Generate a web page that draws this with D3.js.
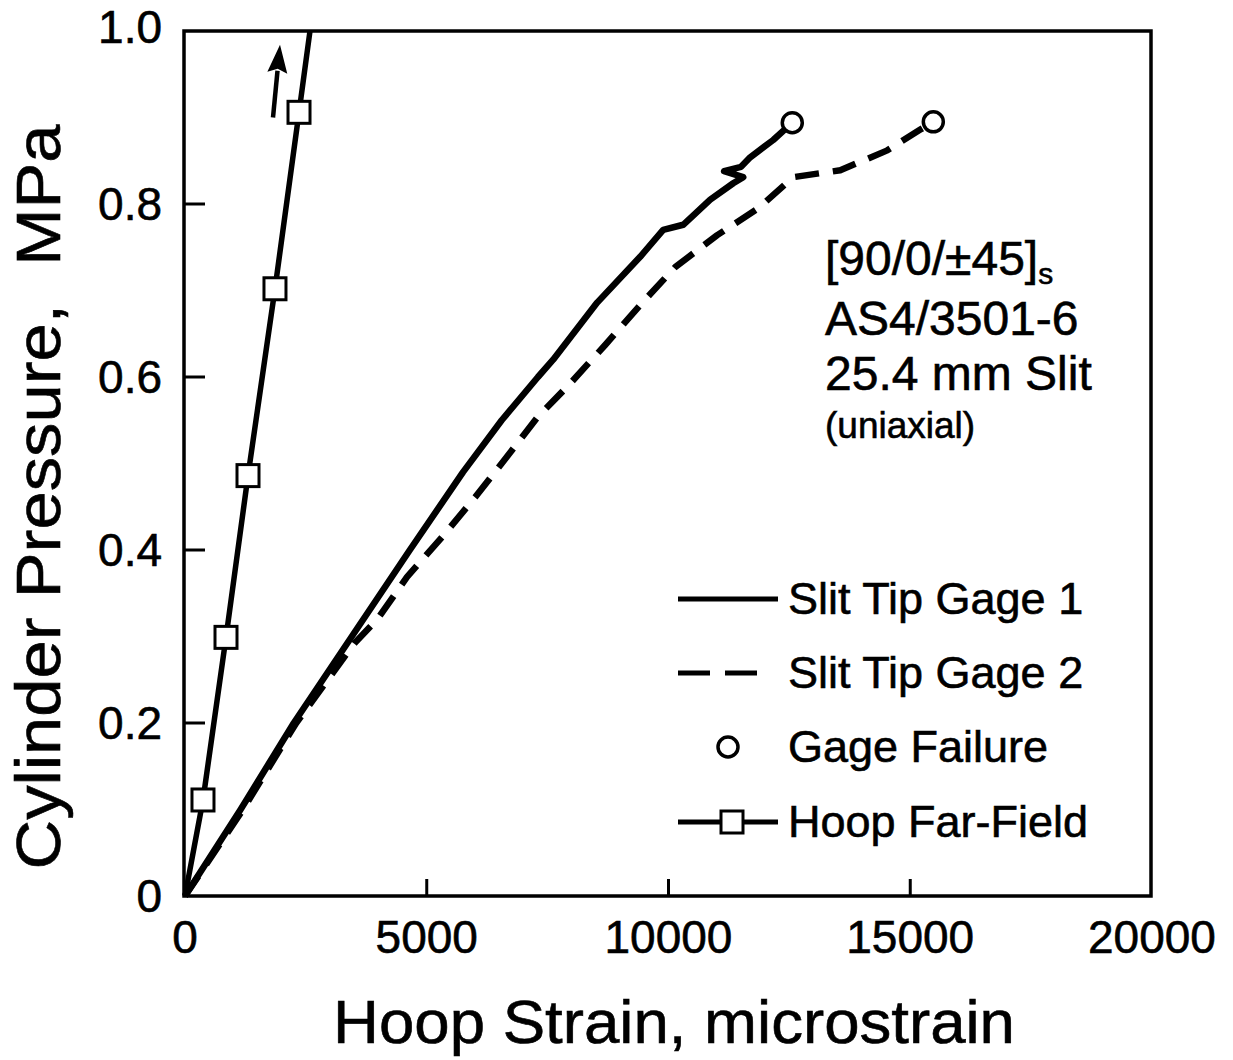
<!DOCTYPE html>
<html><head><meta charset="utf-8">
<script src="https://cdn.jsdelivr.net/npm/d3@7"></script>
<style>
html,body{margin:0;padding:0;background:#fff;}
text{font-family:"Liberation Sans",Arial,Helvetica,sans-serif;fill:#000;stroke:#000;stroke-width:0.6px;}
</style></head>
<body>
<svg id="chart" width="1233" height="1060"></svg>
<script>
// ---- data ----
const xTicks = [0, 5000, 10000, 15000, 20000];
const yTicks = [0, 0.2, 0.4, 0.6, 0.8, 1.0];
const yTickLabels = ["0", "0.2", "0.4", "0.6", "0.8", "1.0"];

const gage1Strain = [0, 1150, 2250, 3450, 4650, 5750, 6550, 7300, 7614, 8525, 9414, 9890, 10304, 10863, 11339, 11545, 11150, 11500, 11690, 12166, 12560];
const gage1Press  = [0, 0.100, 0.200, 0.300, 0.400, 0.490, 0.550, 0.600, 0.620, 0.686, 0.739, 0.770, 0.776, 0.805, 0.824, 0.831, 0.838, 0.843, 0.854, 0.874, 0.894];

const gage2Strain = [0, 1200, 2300, 3500, 3993, 4593, 5318, 6000, 6662, 7283, 7925, 8690, 9476, 10138, 11008, 11856, 12580, 13553, 14525, 15208, 15477];
const gage2Press  = [0, 0.100, 0.200, 0.292, 0.321, 0.369, 0.415, 0.461, 0.508, 0.553, 0.590, 0.637, 0.687, 0.727, 0.764, 0.795, 0.831, 0.839, 0.862, 0.886, 0.895];

const hoopStrain = [0, 372, 848, 1303, 1861, 2358, 2585];
const hoopPress  = [0, 0.111, 0.299, 0.486, 0.702, 0.906, 1.0];
const hoopMarkerIdx = [1, 2, 3, 4, 5];

const failStrain = [12560, 15477];
const failPress  = [0.894, 0.895];

const arrowStrain = [1820, 1965];
const arrowPress  = [0.90, 0.984];

const legendLabels = ["Slit Tip Gage 1", "Slit Tip Gage 2", "Gage Failure", "Hoop Far-Field"];
const noteLines = ["AS4/3501-6", "25.4 mm Slit"];

// ---- drawing ----
const svg = d3.select("#chart");
const x = d3.scaleLinear().domain([0, 20000]).range([185, 1152]);
const y = d3.scaleLinear().domain([0, 1.0]).range([896, 31]);

// frame
svg.append("rect").attr("x", x(0) - 1).attr("y", y(1)).attr("width", x(20000) - x(0))
  .attr("height", y(0) - y(1)).attr("fill", "none").attr("stroke", "#000").attr("stroke-width", 3.5);

// ticks (inward)
svg.selectAll(".xt").data(xTicks.slice(1, -1)).enter().append("line")
  .attr("x1", d => x(d)).attr("x2", d => x(d)).attr("y1", y(0)).attr("y2", y(0) - 17)
  .attr("stroke", "#000").attr("stroke-width", 3);
svg.selectAll(".yt").data(yTicks.slice(1, -1)).enter().append("line")
  .attr("x1", x(0)).attr("x2", x(0) + 20).attr("y1", d => y(d)).attr("y2", d => y(d))
  .attr("stroke", "#000").attr("stroke-width", 3);

// tick labels
svg.selectAll(".xl").data(xTicks).enter().append("text")
  .attr("x", d => x(d)).attr("y", 953).attr("text-anchor", "middle")
  .attr("font-size", 46).text(d => d);
svg.selectAll(".yl").data(yTicks).enter().append("text")
  .attr("x", 162).attr("y", (d) => y(d) + (d === 1 ? 12 : 16)).attr("text-anchor", "end")
  .attr("font-size", 46).text((d, i) => yTickLabels[i]);

// axis titles
svg.append("text").attr("x", 674).attr("y", 1043).attr("text-anchor", "middle")
  .attr("font-size", 62).attr("textLength", 682).attr("lengthAdjust", "spacingAndGlyphs")
  .text("Hoop Strain, microstrain");
svg.append("text").attr("transform", "translate(60,497) rotate(-90)").attr("text-anchor", "middle")
  .attr("font-size", 63).attr("textLength", 745).attr("lengthAdjust", "spacingAndGlyphs")
  .style("white-space", "pre").text("Cylinder Pressure,  MPa");

const line = d3.line().x(d => x(d[0])).y(d => y(d[1]));
const g1 = gage1Strain.map((s, i) => [s, gage1Press[i]]);
const g2 = gage2Strain.map((s, i) => [s, gage2Press[i]]);
const hp = hoopStrain.map((s, i) => [s, hoopPress[i]]);

svg.append("path").attr("d", line(g2)).attr("fill", "none").attr("stroke", "#000")
  .attr("stroke-width", 6.5).attr("stroke-dasharray", "24,14").attr("stroke-linejoin", "round");
svg.append("path").attr("d", line(g1)).attr("fill", "none").attr("stroke", "#000")
  .attr("stroke-width", 6.5).attr("stroke-linejoin", "round");
svg.append("path").attr("d", line(hp)).attr("fill", "none").attr("stroke", "#000")
  .attr("stroke-width", 5.5);

svg.selectAll(".sq").data(hoopMarkerIdx).enter().append("rect")
  .attr("x", i => x(hoopStrain[i]) - 11).attr("y", i => y(hoopPress[i]) - 11)
  .attr("width", 22).attr("height", 22).attr("fill", "#fff").attr("stroke", "#000").attr("stroke-width", 3);

svg.selectAll(".fc").data(failStrain).enter().append("circle")
  .attr("cx", d => x(d)).attr("cy", (d, i) => y(failPress[i])).attr("r", 10)
  .attr("fill", "#fff").attr("stroke", "#000").attr("stroke-width", 3.5);

// arrow (shaft + filled head)
{
  const ax0 = x(arrowStrain[0]), ay0 = y(arrowPress[0]);
  const ax1 = x(arrowStrain[1]), ay1 = y(arrowPress[1]);
  const dx = ax1 - ax0, dy = ay1 - ay0, L = Math.hypot(dx, dy);
  const ux = dx / L, uy = dy / L, px = -uy, py = ux;
  const hl = 28, hw = 10;
  const bx = ax1 - ux * hl, by = ay1 - uy * hl;
  svg.append("line").attr("x1", ax0).attr("y1", ay0).attr("x2", bx + ux * 2).attr("y2", by + uy * 2)
    .attr("stroke", "#000").attr("stroke-width", 4.5);
  svg.append("path")
    .attr("d", `M${ax1},${ay1} L${bx + px * hw},${by + py * hw} L${bx + ux * 4},${by + uy * 4} L${bx - px * hw},${by - py * hw} Z`)
    .attr("fill", "#000");
}

// annotation
const note = svg.append("text").attr("x", 825).attr("y", 275).attr("font-size", 48);
note.append("tspan").text("[90/0/\u00B145]");
note.append("tspan").attr("font-size", 30).attr("dy", 9).text("s");
noteLines.forEach((t, i) => svg.append("text").attr("x", 825).attr("y", 335 + i * 55).attr("font-size", 48).text(t));
svg.append("text").attr("x", 825).attr("y", 438).attr("font-size", 37).text("(uniaxial)");

// legend
const lx0 = 678, lx1 = 778, ly = [599, 673, 747, 822];
svg.append("line").attr("x1", lx0).attr("x2", lx1).attr("y1", ly[0]).attr("y2", ly[0]).attr("stroke", "#000").attr("stroke-width", 5);
svg.append("line").attr("x1", lx0).attr("x2", lx1 - 20).attr("y1", ly[1]).attr("y2", ly[1]).attr("stroke", "#000").attr("stroke-width", 5).attr("stroke-dasharray", "32,15");
svg.append("circle").attr("cx", 728).attr("cy", ly[2]).attr("r", 10).attr("fill", "#fff").attr("stroke", "#000").attr("stroke-width", 3.5);
svg.append("line").attr("x1", lx0).attr("x2", lx1).attr("y1", ly[3]).attr("y2", ly[3]).attr("stroke", "#000").attr("stroke-width", 5);
svg.append("rect").attr("x", 732 - 11).attr("y", ly[3] - 11).attr("width", 22).attr("height", 22).attr("fill", "#fff").attr("stroke", "#000").attr("stroke-width", 3);
svg.selectAll(".lt").data(legendLabels).enter().append("text")
  .attr("x", 788).attr("y", (d, i) => ly[i] + 15).attr("font-size", 45).text(d => d);
</script>
</body></html>
